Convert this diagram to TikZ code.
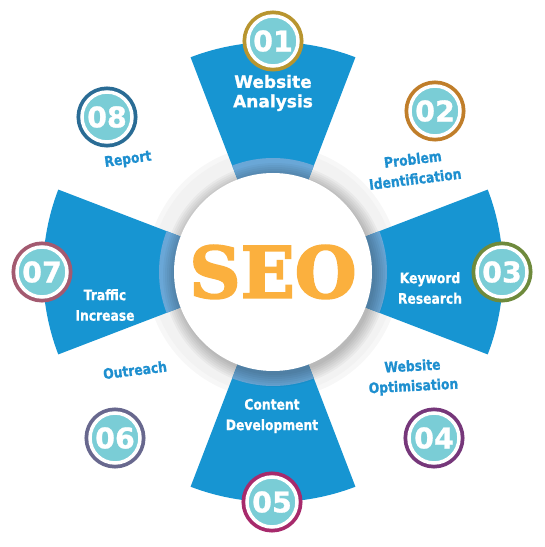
\documentclass[tikz,border=0pt]{standalone}
\usepackage{fontspec}
\usetikzlibrary{calc}
\setmainfont{DejaVu Sans}
\newfontfamily\lab[FakeStretch=0.85,FakeBold=0.8]{DejaVu Sans}
\newfontfamily\numf[FakeBold=1]{DejaVu Sans}
\newfontfamily\seof[FakeBold=2.5]{DejaVu Serif}
\definecolor{segblue}{HTML}{1795D2}
\definecolor{bandblue}{HTML}{6AA7D7}
\definecolor{numteal}{HTML}{7ACDD6}
\definecolor{textblue}{HTML}{1E8FCF}
\definecolor{seoorange}{HTML}{FBB03E}
\definecolor{ringA}{HTML}{B8952F}
\definecolor{ringB}{HTML}{C07E2A}
\definecolor{ringC}{HTML}{6E8A3C}
\definecolor{ringD}{HTML}{76377A}
\definecolor{ringE}{HTML}{A72A6C}
\definecolor{ringF}{HTML}{68688E}
\definecolor{ringG}{HTML}{A35A70}
\definecolor{ringH}{HTML}{2A6C95}
\begin{document}
\begin{tikzpicture}[x=1pt,y=1pt,
  wedge/.style={fill=segblue},
  band/.style={fill=bandblue},
  numc/.style={circle, minimum size=50pt, inner sep=0pt, fill=numteal, draw=white,
    line width=3.5pt, preaction={draw=#1, line width=11pt},
    text=white, font=\numf\bfseries\fontsize{28.5}{28.5}\selectfont},
  wlab/.style={text=white, align=center, font=\lab\bfseries\fontsize{14.5}{20.5}\selectfont},
  blab/.style={text=textblue, align=center, font=\lab\bfseries\fontsize{14.5}{20}\selectfont},
]
\path[use as bounding box] (0,0) rectangle (545,547);
\coordinate (C) at (273,275);
% grey ring
\fill[black!3] (C) circle (127);
\fill[black!5] (C) circle (122);
% wedges
\foreach \a in {90,0,-90,180}{
  \fill[wedge] (C) -- +(\a-21:230) arc[start angle=\a-21, end angle=\a+21, radius=230] -- cycle;
  \fill[band] (C) -- +(\a-21:114) arc[start angle=\a-21, end angle=\a+21, radius=114] -- cycle;
}
% shadow of white disc
\foreach \r in {100,102,...,112}{
  \fill[black, opacity=0.035] ($(C)+(2,-3)$) circle (\r);
}
\fill[white] (C) circle (99);
% SEO
\node[text=seoorange, font=\seof\bfseries\fontsize{71}{71}\selectfont, inner sep=0pt] (seo) at (273,275) {SEO};
% number circles
\node[numc=ringA] (n1) at (273,506) {01};
\node[numc=ringB] (n2) at (435,436) {02};
\node[numc=ringC] (n3) at (502,275) {03};
\node[numc=ringD] (n4) at (434,109) {04};
\node[numc=ringE] (n5) at (272,45) {05};
\node[numc=ringF] (n6) at (115,109) {06};
\node[numc=ringG] (n7) at (42,275) {07};
\node[numc=ringH] (n8) at (107,430) {08};
% labels inside wedges
\node[text=white, align=center, font=\numf\bfseries\fontsize{17}{19.5}\selectfont] (l1) at (273,454) {Website\\Analysis};
\node[wlab] (l3) at (430,259) {Keyword\\Research};
\node[wlab] (l5) at (272,131) {Content\\Development};
\node[wlab] (l7) at (105,242) {Traffic\\Increase};
% blue labels
\node[blab, rotate=7] (l2) at (414,378) {Problem\\Identification};
\node[blab, rotate=3] (l4) at (413,170) {Website\\Optimisation};
\node[blab, rotate=7] (l6) at (135,177) {Outreach};
\node[blab, rotate=8] (l8) at (128,387) {Report};
\end{tikzpicture}
\end{document}
